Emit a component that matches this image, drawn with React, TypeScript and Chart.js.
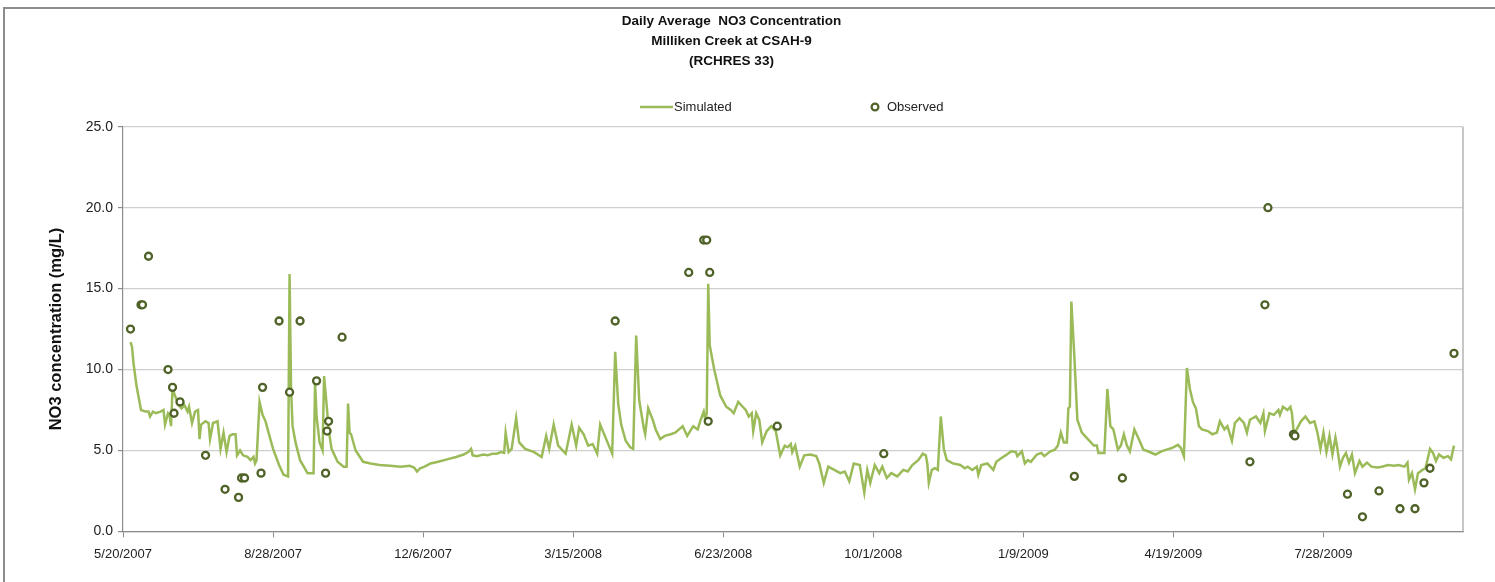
import React, { useEffect, useRef } from "react";
import { Chart, registerables } from "chart.js";

Chart.register(...registerables);

// Days counted from 5/20/2007
const simDays = [
  5, 6, 7, 9, 12, 15, 17, 18, 20, 22, 25, 27, 28, 30, 31, 32, 33, 35, 37, 39,
  41, 43, 44, 46, 48, 50, 51, 52, 55, 57, 58, 60, 63, 65, 67, 69, 71, 73, 75, 76,
  78, 80, 83, 85, 87, 88, 89, 91, 93, 95, 97, 100, 104, 107, 110, 111, 112, 113, 115, 118,
  123, 127, 128, 129, 131, 133, 134, 136, 137, 139, 143, 147, 149, 150, 151, 152, 155, 160, 165, 171,
  178, 185, 191, 194, 196, 198, 201, 205, 210, 216, 222, 227, 230, 232, 233, 236, 240, 243, 246, 249,
  252, 254, 255, 257, 259, 262, 264, 268, 274, 279, 282, 284, 287, 290, 295, 299, 302, 304, 307, 310,
  313, 316, 318, 322, 326, 328, 330, 332, 335, 338, 340, 342, 344, 347, 348, 350, 353, 355, 358, 361,
  365, 368, 373, 376, 380, 383, 385, 387, 388, 389, 390, 391, 394, 396, 398, 402, 405, 407, 410, 413,
  415, 417, 419, 420, 422, 424, 426, 429, 432, 435, 438, 441, 443, 445, 446, 448, 451, 454, 458, 462,
  464, 467, 470, 474, 478, 481, 484, 487, 491, 494, 496, 498, 501, 504, 506, 509, 512, 516, 520, 523,
  526, 530, 533, 535, 536, 537, 539, 541, 543, 545, 547, 549, 553, 558, 561, 563, 566, 569, 570, 572,
  576, 580, 582, 585, 589, 592, 595, 596, 599, 601, 603, 605, 609, 612, 614, 618, 621, 623, 625, 627,
  629, 630, 631, 632, 634, 636, 639, 643, 647, 649, 650, 654, 656, 658, 660, 663, 665, 667, 669, 671,
  674, 677, 680, 683, 688, 692, 697, 699, 703, 705, 707, 709, 711, 713, 715, 717, 719, 723, 726, 729,
  731, 734, 736, 739, 741, 744, 747, 749, 751, 755, 758, 760, 761, 764, 767, 770, 771, 773, 776, 778,
  779, 780, 781, 785, 788, 791, 794, 796, 798, 800, 802, 804, 806, 808, 809, 811, 813, 815, 817, 819,
  821, 824, 826, 829, 832, 836, 839, 843, 847, 850, 854, 856, 857, 859, 861, 863, 866, 868, 871, 873,
  875, 877, 880, 883, 885, 887,
];

const simValues = [
  11.7, 11.4, 10.4, 9.0, 7.5, 7.4, 7.4, 7.1, 7.4, 7.3, 7.4, 7.5, 6.6, 7.3, 7.2, 6.5, 8.8, 8.3, 7.8, 7.6,
  7.8, 7.4, 7.7, 6.7, 7.4, 7.5, 5.7, 6.6, 6.8, 6.7, 5.7, 6.7, 6.8, 5.1, 6.1, 4.9, 5.9, 6.0, 6.0, 4.7,
  5.0, 4.7, 4.6, 4.4, 4.6, 4.2, 4.4, 8.0, 7.2, 6.8, 6.1, 5.1, 4.1, 3.5, 3.4, 15.9, 8.8, 6.5, 5.5, 4.4,
  3.6, 3.6, 9.2, 7.1, 5.5, 5.0, 9.6, 7.5, 6.3, 5.1, 4.3, 4.0, 4.0, 7.9, 6.1, 6.0, 5.0, 4.3, 4.2, 4.1,
  4.05, 4.0, 4.05, 3.95, 3.7, 3.9, 4.0, 4.2, 4.3, 4.45, 4.6, 4.75, 4.9, 5.1, 4.7, 4.65, 4.75, 4.7, 4.8, 4.8,
  4.9, 4.85, 6.1, 4.9, 5.1, 7.0, 5.5, 5.1, 4.9, 4.6, 5.9, 5.1, 6.6, 5.3, 4.8, 6.6, 5.3, 6.4, 6.0, 5.3,
  5.4, 4.8, 6.6, 5.7, 4.8, 11.1, 7.9, 6.6, 5.6, 5.2, 5.1, 12.1, 8.1, 6.4, 6.0, 7.6, 6.9, 6.3, 5.7, 5.9,
  6.0, 6.1, 6.5, 5.9, 6.5, 6.3, 6.9, 7.4, 6.9, 7.3, 15.3, 11.5, 10.0, 9.2, 8.4, 7.7, 7.5, 7.3, 8.0, 7.7,
  7.5, 7.1, 7.3, 6.2, 7.3, 6.9, 5.5, 6.2, 6.5, 6.2, 4.7, 5.3, 5.2, 5.4, 4.9, 5.3, 4.0, 4.7, 4.75, 4.65,
  4.2, 3.0, 4.0, 3.8, 3.6, 3.7, 3.1, 4.2, 4.1, 2.4, 3.8, 3.0, 4.1, 3.6, 4.0, 3.3, 3.6, 3.4, 3.8, 3.7,
  4.1, 4.4, 4.8, 4.7, 4.2, 3.0, 3.8, 3.9, 3.8, 7.1, 5.1, 4.4, 4.2, 4.1, 3.9, 4.0, 3.8, 4.0, 3.5, 4.1,
  4.2, 3.8, 4.3, 4.5, 4.75, 4.95, 4.9, 4.65, 4.95, 4.2, 4.4, 4.3, 4.75, 4.85, 4.65, 4.95, 5.05, 5.3, 6.1, 5.5,
  5.5, 7.6, 7.7, 14.2, 10.8, 6.9, 6.1, 5.7, 5.3, 5.3, 4.85, 4.85, 8.8, 6.5, 6.3, 5.05, 5.3, 6.0, 5.3, 4.95,
  6.3, 5.7, 5.05, 4.95, 4.75, 4.95, 5.1, 5.15, 5.35, 5.15, 4.65, 10.1, 8.8, 8.0, 7.6, 6.5, 6.3, 6.2, 6.0, 6.1,
  6.8, 6.3, 6.5, 5.6, 6.7, 7.0, 6.7, 6.1, 6.9, 7.1, 6.7, 7.3, 6.2, 7.3, 7.2, 7.5, 7.2, 7.7, 7.5, 7.7,
  7.3, 6.3, 6.1, 6.8, 7.1, 6.7, 6.8, 6.1, 5.1, 6.1, 4.9, 5.9, 4.75, 5.8, 5.3, 4.0, 4.55, 4.85, 4.25, 4.75,
  3.6, 4.35, 4.0, 4.25, 4.0, 3.95, 4.0, 4.1, 4.05, 4.1, 4.0, 4.25, 3.2, 3.6, 2.6, 3.6, 3.8, 3.9, 5.1, 4.85,
  4.35, 4.75, 4.55, 4.65, 4.45, 5.3,
];

const obsDays = [
  5, 12, 13, 17, 30, 33, 34, 38, 55, 68, 77, 79, 81, 92, 93, 104, 111, 118, 129, 135,
  136, 137, 146, 328, 377, 387, 389, 390, 391, 436, 507, 634, 666, 751, 761, 763, 780, 781, 816, 826,
  837, 851, 861, 867, 871, 887,
];

const obsValues = [
  12.5, 14.0, 14.0, 17.0, 10.0, 8.9, 7.3, 8.0, 4.7, 2.6, 2.1, 3.3, 3.3, 3.6, 8.9, 13.0, 8.6, 13.0, 9.3, 3.6,
  6.2, 6.8, 12.0, 13.0, 16.0, 18.0, 18.0, 6.8, 16.0, 6.5, 4.8, 3.4, 3.3, 4.3, 14.0, 20.0, 6.0, 5.9, 2.3, 0.9,
  2.5, 1.4, 1.4, 3.0, 3.9, 11.0,
];

const titleLines = ["Daily Average  NO3 Concentration", "Milliken Creek at CSAH-9", "(RCHRES 33)"];
const yAxisTitle = "NO3 concentration (mg/L)";
const seriesNames = ["Simulated", "Observed"];
const xTickDays = [0, 100, 200, 300, 400, 500, 600, 700, 800];
const xMaxDay = 893;
const yTicks = [0, 5, 10, 15, 20, 25];

const START_UTC = Date.UTC(2007, 4, 20);
const FONT = "'Liberation Sans', Arial, sans-serif";
const SIM_COLOR = "#9bbb59";
const OBS_COLOR = "#4f6228";

function dayLabel(d: number): string {
  const dt = new Date(START_UTC + d * 86400000);
  return `${dt.getUTCMonth() + 1}/${dt.getUTCDate()}/${dt.getUTCFullYear()}`;
}

const extrasPlugin = {
  id: "extras",
  afterDraw(chart: any) {
    const ctx = chart.ctx;
    const area = chart.chartArea;
    ctx.save();
    // plot-area right border
    ctx.strokeStyle = "#b5b5b5";
    ctx.lineWidth = 1.5;
    ctx.beginPath();
    ctx.moveTo(area.right, area.top);
    ctx.lineTo(area.right, area.bottom);
    ctx.stroke();
    // legend
    const ly = 107;
    ctx.strokeStyle = SIM_COLOR;
    ctx.lineWidth = 2.5;
    ctx.beginPath();
    ctx.moveTo(640, ly);
    ctx.lineTo(673, ly);
    ctx.stroke();
    ctx.font = `13px ${FONT}`;
    ctx.fillStyle = "#222";
    ctx.textBaseline = "middle";
    ctx.textAlign = "left";
    ctx.fillText(seriesNames[0], 674, ly);
    ctx.beginPath();
    ctx.arc(875, ly, 3.4, 0, Math.PI * 2);
    ctx.fillStyle = "#fff";
    ctx.fill();
    ctx.strokeStyle = OBS_COLOR;
    ctx.lineWidth = 2.2;
    ctx.stroke();
    ctx.fillStyle = "#222";
    ctx.fillText(seriesNames[1], 887, ly);
    ctx.restore();
  },
};

export default function App() {
  const ref = useRef<HTMLCanvasElement | null>(null);

  useEffect(() => {
    if (!ref.current) return;
    const chart = new Chart(ref.current, {
      type: "scatter",
      data: {
        datasets: [
          {
            type: "line",
            label: seriesNames[0],
            data: simDays.map((d, i) => ({ x: d, y: simValues[i] })),
            borderColor: SIM_COLOR,
            backgroundColor: SIM_COLOR,
            borderWidth: 2.5,
            pointRadius: 0,
            tension: 0,
            fill: false,
            order: 2,
          } as any,
          {
            type: "scatter",
            label: seriesNames[1],
            data: obsDays.map((d, i) => ({ x: d, y: obsValues[i] })),
            borderColor: OBS_COLOR,
            backgroundColor: "#ffffff",
            borderWidth: 2.3,
            pointRadius: 3.5,
            order: 1,
          },
        ],
      },
      options: {
        responsive: false,
        animation: false,
        layout: { padding: { left: 0, right: 32, top: 0, bottom: 11 } },
        plugins: {
          legend: { display: false },
          tooltip: { enabled: false },
          title: {
            display: true,
            text: titleLines,
            color: "#111",
            font: { family: FONT, size: 13.5, weight: "bold", lineHeight: 1.5 },
            padding: { top: 11, bottom: 55 },
          },
        },
        scales: {
          x: {
            type: "linear",
            min: 0,
            max: xMaxDay,
            afterBuildTicks: (scale: any) => {
              scale.ticks = xTickDays.map((v) => ({ value: v }));
            },
            ticks: {
              callback: (v: any) => dayLabel(Number(v)),
              color: "#222",
              font: { family: FONT, size: 13 },
              padding: 9,
              maxRotation: 0,
              autoSkip: false,
            },
            grid: {
              drawOnChartArea: false,
              drawTicks: true,
              tickLength: 6,
              color: "#8c8c8c",
            },
            border: { display: true, color: "#8c8c8c", width: 1.2 },
          },
          y: {
            min: 0,
            max: 25,
            afterBuildTicks: (scale: any) => {
              scale.ticks = yTicks.map((v) => ({ value: v }));
            },
            afterFit: (scale: any) => {
              scale.width = 123;
            },
            ticks: {
              callback: (v: any) => Number(v).toFixed(1),
              color: "#222",
              font: { family: FONT, size: 14 },
              padding: 5,
            },
            grid: {
              color: "#cfcfcf",
              lineWidth: 1.2,
              drawTicks: true,
              tickLength: 5,
              tickColor: "#8c8c8c",
            },
            border: { display: true, color: "#8c8c8c", width: 1.2 },
            title: {
              display: true,
              text: yAxisTitle,
              color: "#111",
              font: { family: FONT, size: 16.5, weight: "bold" },
              padding: { top: 47, bottom: 0 },
            },
          },
        },
      },
      plugins: [extrasPlugin],
    });
    return () => chart.destroy();
  }, []);

  return (
    <div
      style={{
        position: "absolute",
        left: 0,
        top: 0,
        width: 1495,
        height: 582,
        overflow: "hidden",
        background: "#fff",
      }}
    >
      <div
        style={{
          position: "absolute",
          left: 3,
          top: 7,
          width: 1700,
          height: 800,
          border: "2px solid #8c8c8c",
        }}
      />
      <canvas
        ref={ref}
        width={1495}
        height={582}
        style={{ position: "absolute", left: 0, top: 0, width: 1495, height: 582 }}
      />
    </div>
  );
}
